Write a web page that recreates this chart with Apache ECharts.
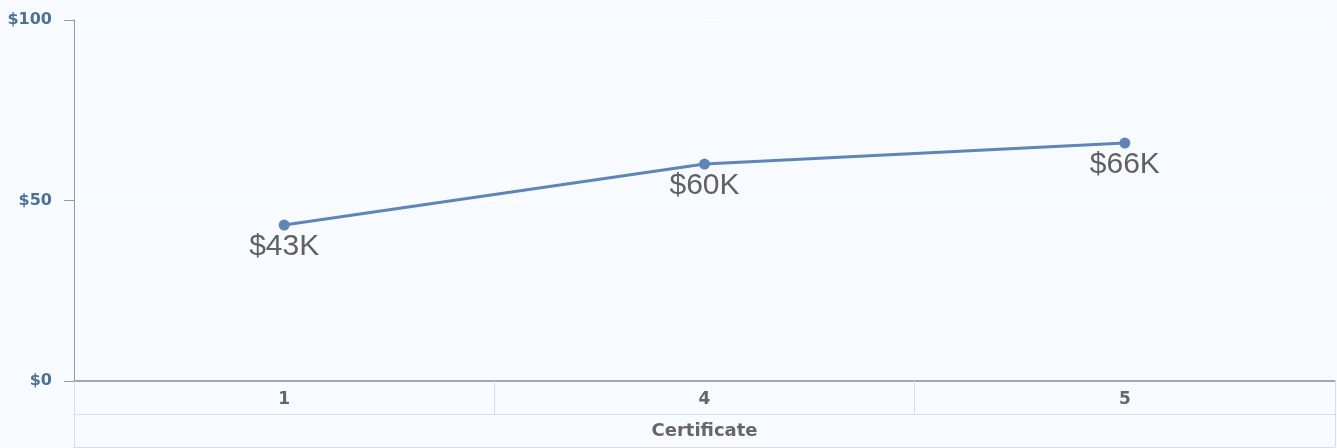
<!DOCTYPE html>
<html><head><meta charset="utf-8">
<script src="https://cdn.jsdelivr.net/npm/echarts@6/dist/echarts.min.js"></script>
<style>html,body{margin:0;padding:0;background:#f7fbff;}#c{width:1337px;height:448px;}</style>
</head><body><div id="c"></div>
<script>
const categories = ['1', '4', '5'];
const salaries = [43.2, 60.1, 65.9];
const dataLabels = ['$43K', '$60K', '$66K'];
const groupLabels = ['Certificate'];
const yTicks = [0, 50, 100];

const boldFont = 'DejaVu Sans, Verdana, sans-serif';
const chart = echarts.init(document.getElementById('c'));
chart.setOption({
  backgroundColor: '#f7fbff',
  animation: false,
  grid: { left: 74, right: 2, top: 20, bottom: 67 },
  xAxis: [
    { type: 'category', data: categories, boundaryGap: true,
      axisLine: { lineStyle: { color: '#8c8c8c', width: 1.5 } },
      axisTick: { show: true, length: 33, lineStyle: { color: '#dcdcdc' } },
      axisLabel: { color: '#666', fontWeight: 'bold', fontSize: 17, fontFamily: boldFont, margin: 10 },
      splitLine: { show: false } },
    { type: 'category', data: groupLabels, position: 'bottom', offset: 33, boundaryGap: true,
      axisLine: { show: true, lineStyle: { color: '#dcdcdc' } },
      axisTick: { show: true, length: 33, lineStyle: { color: '#dcdcdc' } },
      axisLabel: { color: '#666', fontWeight: 'bold', fontSize: 18, fontFamily: boldFont, margin: 8 } },
    { type: 'category', data: [''], position: 'bottom', offset: 66,
      axisLine: { show: true, lineStyle: { color: '#dcdcdc' } },
      axisTick: { show: false }, axisLabel: { show: false } }
  ],
  yAxis: {
    type: 'value', min: yTicks[0], max: yTicks[yTicks.length - 1], interval: 50,
    axisLine: { show: true, lineStyle: { color: '#999' } },
    axisTick: { show: true, length: 10, lineStyle: { color: '#999' } },
    axisLabel: { color: '#4a709c', fontWeight: 'bold', fontSize: 16, fontFamily: boldFont, margin: 22,
      padding: [3, 0, 0, 0], formatter: v => '$' + v },
    splitLine: { show: true, lineStyle: { color: '#ffffff', width: 1 } }
  },
  series: [{
    type: 'line', xAxisIndex: 0,
    data: salaries,
    symbol: 'circle', symbolSize: 11,
    lineStyle: { color: '#5d86b6', width: 3 },
    itemStyle: { color: '#5d86b6' },
    label: { show: true, position: 'bottom', distance: 1, color: '#616161', fontSize: 30,
      fontFamily: 'Liberation Sans, Arial',
      formatter: p => dataLabels[p.dataIndex] }
  }]
});
</script></body></html>
